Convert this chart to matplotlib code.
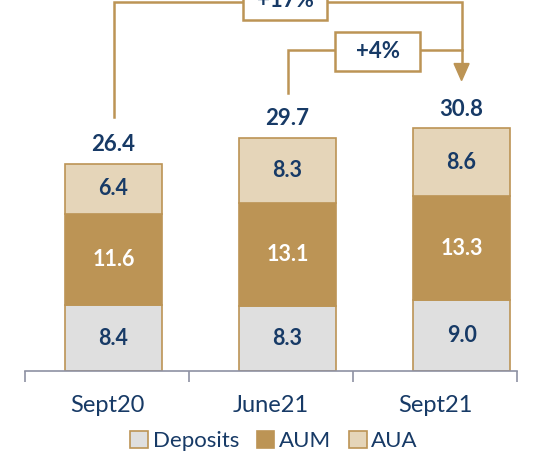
import matplotlib
matplotlib.use("Agg")
import matplotlib.pyplot as plt
from matplotlib.patches import Rectangle, Patch, Polygon
import numpy as np

categories = ["Sept20", "June21", "Sept21"]
deposits = [8.4, 8.3, 9.0]
aum = [11.6, 13.1, 13.3]
aua = [6.4, 8.3, 8.6]
totals = [26.4, 29.7, 30.8]
growth_labels = ["+17%", "+4%"]

NAVY = "#173A66"
GOLD = "#BC9455"
LIGHT = "#E5D5B9"
GREY = "#DFDFDF"
AXIS = "#8E91A3"

plt.rcParams['font.family'] = ['Lato', 'DejaVu Sans']

fig = plt.figure(figsize=(5.54, 4.53), dpi=100)
W, H = 554, 453
base_px = 371
ppu = 7.85
ax = fig.add_axes([25 / W, (H - base_px) / H, 492 / W, base_px / H])
ymax = base_px / ppu
ax.set_ylim(0, ymax)
ax.set_xlim(-0.5, 2.5)

xt = np.arange(len(categories))
# bars sit slightly right of the tick-label centres in the reference
xb = 0.04 + xt * 1.061
bw = 0.59
dep = np.array(deposits)
am = np.array(aum)
aa = np.array(aua)
ax.bar(xb, dep, bw, color=GREY, edgecolor=GOLD, linewidth=1.2, zorder=2)
ax.bar(xb, am, bw, bottom=dep, color=GOLD, edgecolor=GOLD, linewidth=1.2, zorder=2)
ax.bar(xb, aa, bw, bottom=dep + am, color=LIGHT, edgecolor=GOLD, linewidth=1.2, zorder=2)

for i in range(len(categories)):
    ax.text(xb[i], dep[i] / 2, f"{deposits[i]:.1f}", ha="center", va="center",
            fontsize=15.5, fontweight="bold", color=NAVY, zorder=3)
    ax.text(xb[i], dep[i] + am[i] / 2, f"{aum[i]:.1f}", ha="center", va="center",
            fontsize=15.5, fontweight="bold", color="white", zorder=3)
    ax.text(xb[i], dep[i] + am[i] + aa[i] / 2, f"{aua[i]:.1f}", ha="center", va="center",
            fontsize=15.5, fontweight="bold", color=NAVY, zorder=3)
    ax.text(xb[i], totals[i] + 2.5, f"{totals[i]:.1f}", ha="center", va="center",
            fontsize=16, fontweight="bold", color=NAVY, zorder=3)

# axes styling
for s in ["top", "right", "left"]:
    ax.spines[s].set_visible(False)
ax.spines["bottom"].set_color(AXIS)
ax.spines["bottom"].set_linewidth(1.2)
ax.set_yticks([])
ax.set_xticks(xt)
ax.set_xticklabels(categories, fontsize=17, color=NAVY)
ax.tick_params(axis="x", which="major", length=0, pad=17)
ax.set_xticks(np.arange(-0.5, 2.6, 1.0), minor=True)
ax.tick_params(axis="x", which="minor", length=8, color=AXIS, width=1.2)

# brackets
lw = 1.8
def px2y(p):
    return (base_px - p) / ppu

tri_h = 17 / ppu
tri_w = 15 / 164 / 2
tip = totals[2] + 6.2

# +17% bracket
y_top17 = px2y(2)
x_right = xb[2]
ax.plot([xb[0], xb[0], x_right, x_right], [totals[0] + 6.0, y_top17, y_top17, tip + tri_h],
        color=GOLD, lw=lw, clip_on=False, zorder=1, solid_joinstyle="miter")
ax.add_patch(Polygon([[x_right - tri_w, tip + tri_h], [x_right + tri_w, tip + tri_h], [x_right, tip]],
                     closed=True, color=GOLD, clip_on=False, zorder=4))

# +4% bracket
y_top4 = px2y(50)
ax.plot([xb[1], xb[1], x_right], [totals[1] + 5.7, y_top4, y_top4],
        color=GOLD, lw=lw, clip_on=False, zorder=1, solid_joinstyle="miter")

def box(cx, cy, wpx, hpx, label):
    w = wpx / 164
    h = hpx / ppu
    ax.add_patch(Rectangle((cx - w / 2, cy - h / 2), w, h, facecolor="white",
                           edgecolor=GOLD, lw=lw, clip_on=False, zorder=5))
    ax.text(cx, cy, label, ha="center", va="center", fontsize=16, fontweight="bold",
            color=NAVY, zorder=6, clip_on=False)

box(1.085, px2y(1), 84, 39, growth_labels[0])
box(1.652, px2y(51.5), 85, 39, growth_labels[1])

# legend
handles = [Patch(facecolor=GREY, edgecolor=GOLD, lw=1.2, label="Deposits"),
           Patch(facecolor=GOLD, edgecolor=GOLD, lw=1.2, label="AUM"),
           Patch(facecolor=LIGHT, edgecolor=GOLD, lw=1.2, label="AUA")]
leg = fig.legend(handles=handles, loc="center", bbox_to_anchor=(274 / W, 1 - 441 / H),
                 ncol=3, frameon=False, fontsize=16, handlelength=0.8, handleheight=0.8,
                 handletextpad=0.2, columnspacing=0.8, borderpad=0)
for t in leg.get_texts():
    t.set_color(NAVY)

fig.savefig("out.png", dpi=100)
